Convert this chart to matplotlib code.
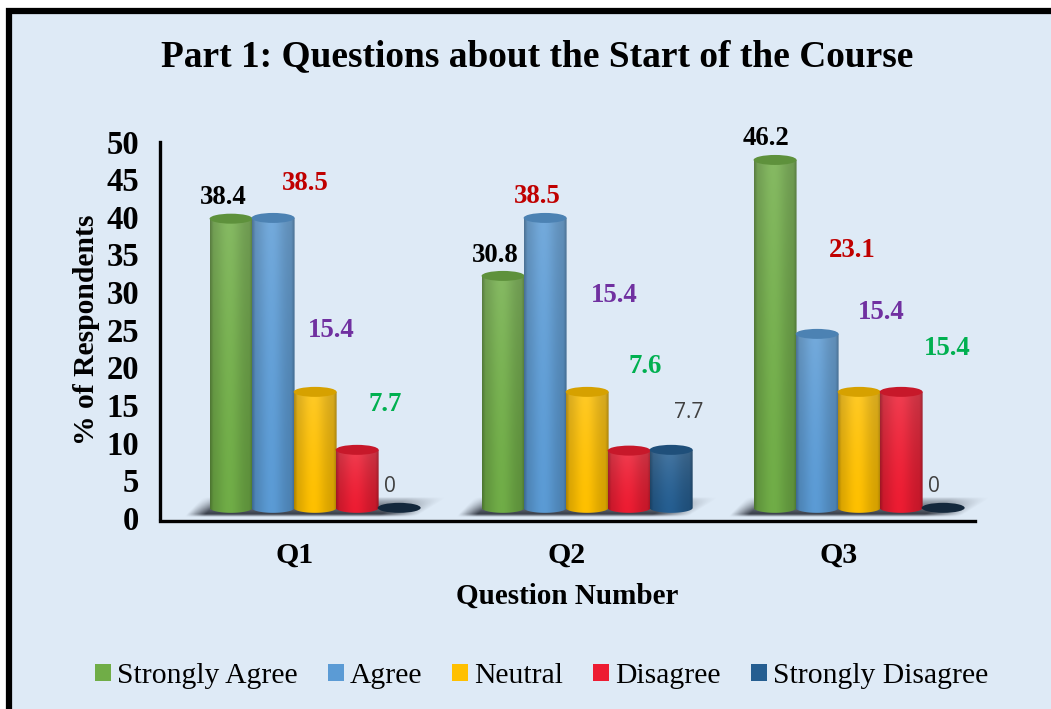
import numpy as np
import matplotlib
matplotlib.use("Agg")
import matplotlib.pyplot as plt
from matplotlib.patches import Rectangle, Ellipse, Polygon, Patch
from matplotlib.colors import to_rgb

categories = ["Q1", "Q2", "Q3"]
series_names = ["Strongly Agree", "Agree", "Neutral", "Disagree", "Strongly Disagree"]
strongly_agree = [38.4, 30.8, 46.2]
agree = [38.5, 38.5, 23.1]
neutral = [15.4, 15.4, 15.4]
disagree = [7.7, 7.6, 15.4]
strongly_disagree = [0, 7.7, 0]
series_values = [strongly_agree, agree, neutral, disagree, strongly_disagree]
y_ticks = list(range(0, 51, 5))

colors = ["#70AD47", "#5B9BD5", "#FFC000", "#ED1C32", "#255E91"]
label_colors = ["#000000", "#C00000", "#7030A0", "#00B050", "#404040"]
# label offsets from bar top, pixels (series x category)
label_dx = [[-8, -8, -9], [32, -8, 35], [16, 27, 22], [28, 16, 46], [-9, 18, -9]]
label_dy = [[21, 20, 21], [34, 21, 83], [61, 96, 79], [45, 84, 43], [21, 37, 21]]

W, H = 1051, 709
BG = "#DEEAF6"
plt.rcParams["font.family"] = ["Liberation Serif", "DejaVu Serif"]
fig = plt.figure(figsize=(W / 100, H / 100), dpi=100, facecolor="white")
fig.patches.append(Rectangle((9 / W, -0.02), (W + 20) / W, 1.02 - 11 / H, transform=fig.transFigure,
                             facecolor=BG, edgecolor="black", linewidth=4.5, zorder=-5))
L, R, T, B = 160, 975, 141.5, 518
ax = fig.add_axes([L / W, 1 - B / H, (R - L) / W, (B - T) / H], zorder=2)
ax.patch.set_alpha(0)
ax.set_xlim(-135 / 272, 2.5)
ax.set_ylim(0, 50)
for s in ["top", "right"]:
    ax.spines[s].set_visible(False)
for s in ["left", "bottom"]:
    ax.spines[s].set_linewidth(2.4)
ax.spines["bottom"].set_position(("outward", 2))
ax.set_xticks(range(3), categories, fontsize=21.5, fontweight="bold")
ax.set_yticks(y_ticks, [str(t) for t in y_ticks], fontsize=23.5, fontweight="bold")
ax.tick_params(axis="both", length=0)
ax.tick_params(axis="x", pad=15)
ax.tick_params(axis="y", pad=15)
ax.set_xlabel("Question Number", fontsize=21, fontweight="bold", labelpad=10)
ax.set_ylabel("% of Respondents", fontsize=21.3, fontweight="bold", labelpad=4.5)
fig.text(537 / W, 1 - 57 / H, "Part 1: Questions about the Start of the Course",
         fontsize=26.9, fontweight="bold", ha="center", va="center")

base = 1.35
start, step, width = -0.235, 0.1545, 0.158
ry = 5 / 7.54
n = 128
u = np.linspace(0, 1, n)
shade = 0.82 + 0.18 * np.exp(-((u - 0.45) / 0.30) ** 2)
shade = shade * (0.80 + 0.20 * np.clip(np.minimum(u, 1 - u) / 0.08, 0, 1))
vert = np.linspace(0, 1, 64)[:, None]

# floor shadows: skewed, soft-edged dark patch behind each group
sx = np.linspace(-0.42, 0.60, 320)
sv = np.linspace(0, 1, 48)
gx, gv = np.meshgrid(sx, sv)
edge_l = -0.41 + 0.07 * gv
edge_r = 0.44 + 0.12 * gv
a_x = np.clip((gx - edge_l) / 0.07, 0, 1) * np.clip((edge_r - gx) / 0.14, 0, 1)
a_y = np.clip(gv / 0.15, 0, 1) * (1 - gv) ** 0.7
shadow = np.zeros(gx.shape + (4,))
shadow[..., :3] = (0.14, 0.16, 0.20)
shadow[..., 3] = a_x * a_y
for c in range(3):
    ax.imshow(shadow, extent=(c + sx[0], c + sx[-1], 0.15, 2.75), origin="lower", aspect="auto",
              zorder=1, interpolation="bilinear", clip_on=False)

for k, (vals, col) in enumerate(zip(series_values, colors)):
    xpos = [c + start + k * step for c in range(3)]
    bars = ax.bar(xpos, vals, width=width, bottom=base, color=col, zorder=2 + k, linewidth=0)
    rgb = np.array(to_rgb(col))
    for c, (bar, v) in enumerate(zip(bars, vals)):
        cx = bar.get_x() + width / 2
        top = base + v
        bar.set_visible(False)
        if v > 0:
            img = np.zeros((64, n, 3))
            mix = 0.15 * vert ** 1.5  # paler toward the top
            body = rgb[None, None, :] + (1 - rgb[None, None, :]) * mix[:, :, None]
            img[:] = np.clip(body * shade[None, :, None], 0, 1)
            im = ax.imshow(img, extent=(cx - width / 2, cx + width / 2, base - ry, top), origin="lower",
                           aspect="auto", zorder=2 + k + 0.1, interpolation="bilinear")
            th = np.linspace(np.pi, 2 * np.pi, 40)
            pts = np.column_stack([cx + width / 2 * np.cos(th), base + ry * np.sin(th)])
            pts = np.vstack([pts, [cx + width / 2, top], [cx - width / 2, top]])
            im.set_clip_path(Polygon(pts, closed=True, transform=ax.transData))
            ax.add_patch(Ellipse((cx, top), width, 2 * ry, facecolor=rgb * 0.84, edgecolor="none",
                                 zorder=2 + k + 0.2))
        else:
            ax.add_patch(Ellipse((cx, top), width, 2 * ry, facecolor="#14283C", edgecolor="none",
                                 zorder=2 + k + 0.2))
        bold = k < 4
        ax.annotate(f"{v:g}", xy=(cx, top), xycoords="data",
                    xytext=(label_dx[k][c], label_dy[k][c]), textcoords="offset pixels",
                    ha="center", va="center", color=label_colors[k], zorder=20,
                    fontsize=19.3 if bold else 15,
                    fontweight="bold" if bold else "normal",
                    family=["Liberation Serif"] if bold else ["Open Sans"])
ax.set_xlim(-135 / 272, 2.5)
ax.set_ylim(0, 50)

handles = [Patch(facecolor=c, edgecolor="none") for c in colors]
fig.legend(handles, series_names, loc="center", bbox_to_anchor=(541.5 / W, 1 - 676 / H), ncol=5, frameon=False,
           fontsize=21.3, handlelength=0.55, handleheight=0.55, handletextpad=0.2, columnspacing=1.01)
fig.savefig("out.png", dpi=100, facecolor="white")
